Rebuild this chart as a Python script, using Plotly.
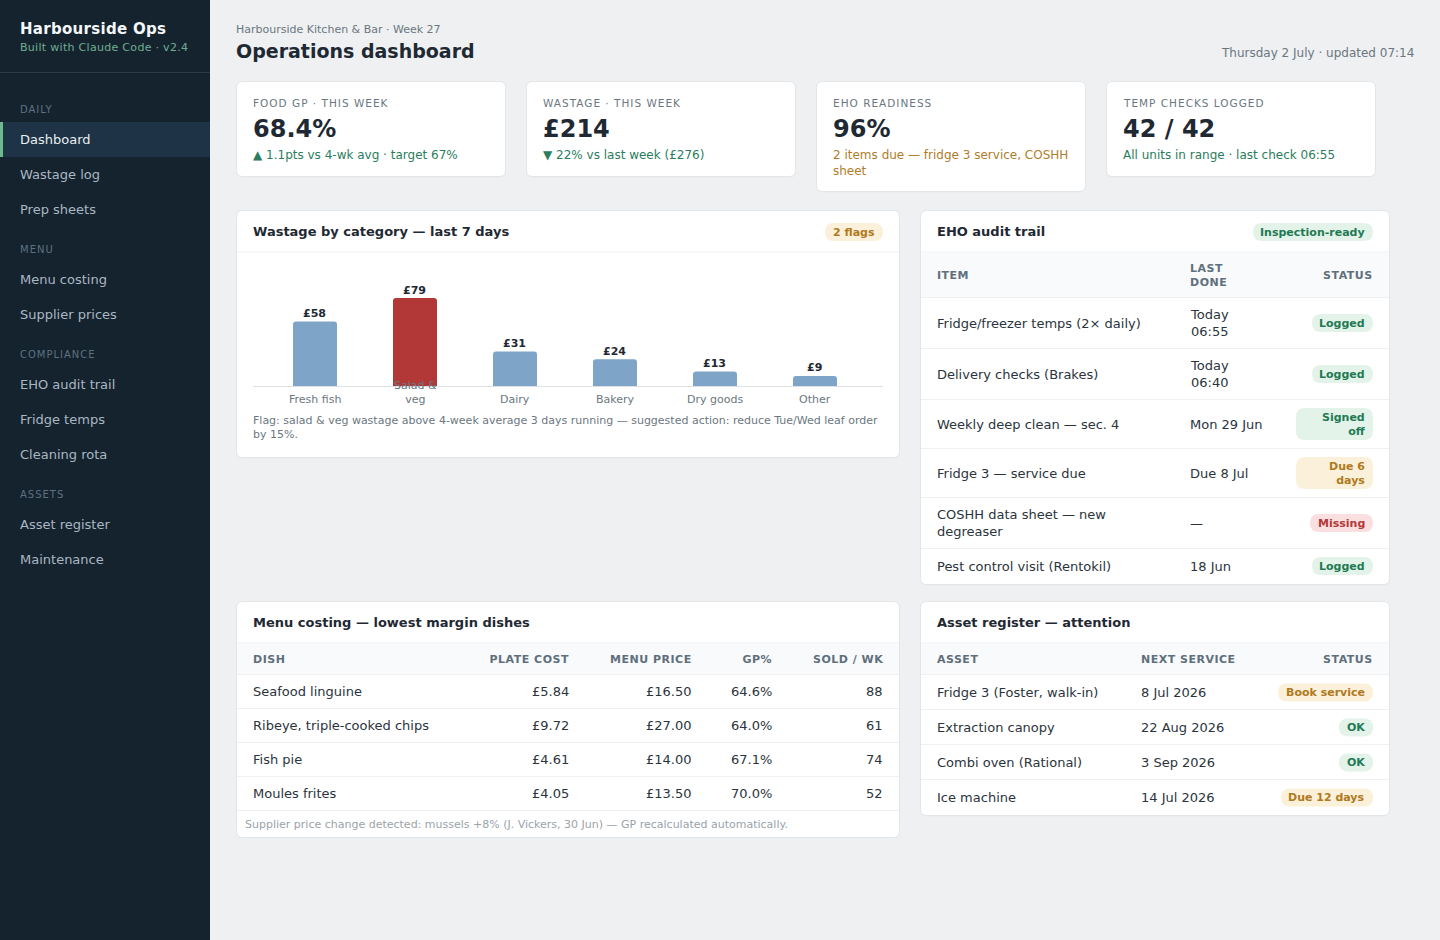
import json
import plotly.graph_objects as go

FONT = "DejaVu Sans"
W, H = 1440, 940

# wastage chart
categories = ["Fresh fish", "Salad & veg", "Dairy", "Bakery", "Dry goods", "Other"]
tick_labels = ["Fresh fish", "Salad &<br>veg", "Dairy", "Bakery", "Dry goods", "Other"]
wastage = [58, 79, 31, 24, 13, 9]
flagged = ["Salad & veg"]

# sidebar
nav_sections = ["DAILY", "MENU", "COMPLIANCE", "ASSETS"]
nav_items = [
    ["Dashboard", "Wastage log", "Prep sheets"],
    ["Menu costing", "Supplier prices"],
    ["EHO audit trail", "Fridge temps", "Cleaning rota"],
    ["Asset register", "Maintenance"],
]

# kpi cards
kpi_labels = ["FOOD GP · THIS WEEK", "WASTAGE · THIS WEEK", "EHO READINESS", "TEMP CHECKS LOGGED"]
kpi_values = ["68.4%", "£214", "96%", "42 / 42"]
kpi_notes = [
    "▲ 1.1pts vs 4-wk avg · target 67%",
    "▼ 22% vs last week (£276)",
    "2 items due — fridge 3 service, COSHH<br>sheet",
    "All units in range · last check 06:55",
]
kpi_tones = ["good", "good", "warn", "good"]

# audit table
audit_items = [
    "Fridge/freezer temps (2× daily)",
    "Delivery checks (Brakes)",
    "Weekly deep clean — sec. 4",
    "Fridge 3 — service due",
    "COSHH data sheet — new<br>degreaser",
    "Pest control visit (Rentokil)",
]
audit_done = ["Today<br>06:55", "Today<br>06:40", "Mon 29 Jun", "Due 8 Jul", "—", "18 Jun"]
audit_status = ["Logged", "Logged", "Signed<br>off", "Due 6<br>days", "Missing", "Logged"]
audit_tones = ["good", "good", "good", "warn", "bad", "good"]

# menu table
dishes = ["Seafood linguine", "Ribeye, triple-cooked chips", "Fish pie", "Moules frites"]
plate_cost = ["£5.84", "£9.72", "£4.61", "£4.05"]
menu_price = ["£16.50", "£27.00", "£14.00", "£13.50"]
gp_pct = ["64.6%", "64.0%", "67.1%", "70.0%"]
sold_wk = ["88", "61", "74", "52"]

# asset table
assets = ["Fridge 3 (Foster, walk-in)", "Extraction canopy", "Combi oven (Rational)", "Ice machine"]
next_service = ["8 Jul 2026", "22 Aug 2026", "3 Sep 2026", "14 Jul 2026"]
asset_status = ["Book service", "OK", "OK", "Due 12 days"]
asset_tones = ["warn", "good", "good", "warn"]

INK = "#1f2933"
BODY = "#2b343c"
MUTED = "#6b7780"
HEAD = "#5f6f7c"
LINE = "#e3e6e9"
SOFT = "#eef0f2"
TONES = {
    "good": ("#1f7a54", "#e3f3ea"),
    "warn": ("#b07a20", "#fbf0da"),
    "bad": ("#b23838", "#fadfe0"),
}
KPI_TONES = {"good": "#2a7d5c", "warn": "#b07d2a"}
PILL_W = {
    "Logged": 61, "Inspection-ready": 120, "2 flags": 58, "Signed<br>off": 77, "Due 6<br>days": 77,
    "Missing": 63, "Book service": 95, "OK": 34, "Due 12 days": 92,
}

shapes = []
notes = []
spacing = {}


def px(x):
    return x / W


def py(y):
    return 1 - y / H


def rect(x0, y0, x1, y1, fill, line=None):
    shapes.append(dict(type="rect", xref="paper", yref="paper", layer="below",
                       x0=px(x0), x1=px(x1), y0=py(y0), y1=py(y1), fillcolor=fill,
                       line=dict(color=line or fill, width=1 if line else 0)))


def rounded(x0, y0, x1, y1, r, fill, line=None):
    a, b, c, d = px(x0), px(x1), py(y0), py(y1)
    rx, ry = r / W, r / H
    path = (f"M {a + rx} {c} L {b - rx} {c} Q {b} {c} {b} {c - ry} L {b} {d + ry} Q {b} {d} {b - rx} {d} "
            f"L {a + rx} {d} Q {a} {d} {a} {d + ry} L {a} {c - ry} Q {a} {c} {a + rx} {c} Z")
    shapes.append(dict(type="path", xref="paper", yref="paper", layer="below", path=path, fillcolor=fill,
                       line=dict(color=line or fill, width=1 if line else 0)))


def hline(x0, x1, y, color=SOFT):
    shapes.append(dict(type="line", xref="paper", yref="paper", layer="below",
                       x0=px(x0), x1=px(x1), y0=py(y), y1=py(y), line=dict(color=color, width=1)))


def text(x, y, s, size=13, color=BODY, bold=False, anchor="left", track=0):
    notes.append(dict(xref="paper", yref="paper", x=px(x), y=py(y), text=s, showarrow=False,
                      xanchor=anchor, yanchor="middle", align=anchor, borderpad=0, borderwidth=0,
                      font=dict(family=FONT, size=size, color=color, weight=700 if bold else 400)))
    if track:
        spacing[s] = [track, anchor]


def pill(right, y, label, tone, h=18):
    fg, bg = TONES[tone]
    rounded(right - PILL_W[label], y - h / 2, right, y + h / 2, 9, bg)
    text(right - 8, y, label, 11, fg, True, "right")


def card(x0, y0, x1, y1):
    # faint drop shadow under the border
    rounded(x0 + 0.5, y0 + 1.5, x1 - 0.5, y1 + 0.5, 6, "#e8eaed")
    rounded(x0 + 0.5, y0 + 0.5, x1 - 0.5, y1 - 0.5, 6, "#ffffff", LINE)


def panel(x0, y0, x1, y1, title):
    card(x0, y0, x1, y1)
    text(x0 + 17, y0 + 21, title, 13, INK, True)
    hline(x0 + 1, x1 - 1, y0 + 42)


def table_head(x0, x1, y0, y1):
    rect(x0 + 1, y0, x1 - 1, y1, "#f8fafb")
    hline(x0 + 1, x1 - 1, y1)


# sidebar
rect(0, 0, 210, H, "#15232f")
hline(0, 210, 72.5, "#2a3a47")
text(20, 29.5, "Harbourside Ops", 15, "#f4f7f9", True, track=0.3)
text(20, 47, "Built with Claude Code · v2.4", 11, "#6fae92", track=0.3)
nav_y = 109
for section, items in zip(nav_sections, nav_items):
    text(20, nav_y + 0.5, section, 10, "#5d7280", track=1)
    nav_y += 30.5
    for item in items:
        if item == "Dashboard":
            rect(0, nav_y - 17.5, 210, nav_y + 17.5, "#1e3346")
            rect(0, nav_y - 17.5, 3, nav_y + 17.5, "#6dbb8c")
        text(20, nav_y, item, 13, "#e8eef2" if item == "Dashboard" else "#a9b7c2")
        nav_y += 35
    nav_y += 4.5

# page header
text(236, 29.5, "Harbourside Kitchen & Bar · Week 27", 11, MUTED)
text(236, 51, "Operations dashboard", 19, INK, True)
text(1414, 52.7, "Thursday 2 July · updated 07:14", 12, MUTED, anchor="right")

# kpi cards
for i, (label, value, note, tone) in enumerate(zip(kpi_labels, kpi_values, kpi_notes, kpi_tones)):
    x0 = 236 + i * 290
    card(x0, 81, x0 + 270, 192 if "<br>" in note else 177)
    text(x0 + 17, 103, label, 10.5, MUTED, track=1)
    text(x0 + 17, 128.5, value, 24, INK, True)
    text(x0 + 17, 155 if "<br>" not in note else 162.6, note, 12, KPI_TONES[tone])

# wastage panel
panel(236, 210, 900, 458, "Wastage by category — last 7 days")
pill(883, 232, "2 flags", "warn")
for i, label in enumerate(tick_labels):
    notes.append(dict(xref="x", yref="paper", x=i, y=py(405.5), text=label, showarrow=False,
                      xanchor="center", yanchor="bottom", borderpad=0, borderwidth=0,
                      font=dict(family=FONT, size=11, color=MUTED)))
for i, v in enumerate(wastage):
    notes.append(dict(xref="x", yref="y", x=i, y=v, text=f"£{v}", showarrow=False, xanchor="center",
                      yanchor="bottom", xshift=-0.5, yshift=1.5, borderpad=0, borderwidth=0,
                      font=dict(family=FONT, size=11, color=INK, weight=700)))
text(253, 427, "Flag: salad & veg wastage above 4-week average 3 days running — suggested action: reduce Tue/Wed leaf order<br>by 15%.", 11, MUTED)

# audit panel
panel(920, 210, 1390, 585, "EHO audit trail")
pill(1373, 232, "Inspection-ready", "good")
table_head(920, 1390, 253, 297.5)
text(937, 275, "ITEM", 11, HEAD, True, track=0.5)
text(1190, 268, "LAST", 11, HEAD, True, track=0.5)
text(1190, 282, "DONE", 11, HEAD, True, track=0.5)
text(1373, 275, "STATUS", 11, HEAD, True, "right", 0.5)
audit_lines = [348.5, 399.5, 448.5, 497.5, 548.5]
audit_mid = [323, 374, 424, 473, 523, 566]
for y in audit_lines:
    hline(921, 1389, y)
for y, item, done, status, tone in zip(audit_mid, audit_items, audit_done, audit_status, audit_tones):
    text(937, y, item, 13, BODY)
    text(1190, y, done, 13, BODY)
    pill(1373, y, status, tone, 32 if "<br>" in status else 18)

# menu panel
panel(236, 601, 900, 838, "Menu costing — lowest margin dishes")
table_head(236, 900, 644, 674.5)
menu_cols = [("PLATE COST", 569, plate_cost), ("MENU PRICE", 692, menu_price), ("GP%", 772, gp_pct), ("SOLD / WK", 883, sold_wk)]
text(253, 659, "DISH", 11, HEAD, True, track=0.5)
for head, x, values in menu_cols:
    text(x, 659, head, 11, HEAD, True, "right", 0.5)
    for j, v in enumerate(values):
        text(x, 691.5 + 34 * j, v, 13, BODY, anchor="right")
for j, dish in enumerate(dishes):
    text(253, 691.5 + 34 * j, dish, 13, BODY)
    hline(237, 899, 708.5 + 34 * j)
text(245, 824, "Supplier price change detected: mussels +8% (J. Vickers, 30 Jun) — GP recalculated automatically.", 11, "#9aa3aa")

# asset panel
panel(920, 601, 1390, 816, "Asset register — attention")
table_head(920, 1390, 644, 674.5)
text(937, 659, "ASSET", 11, HEAD, True, track=0.5)
text(1140.5, 659, "NEXT SERVICE", 11, HEAD, True, track=0.5)
text(1373, 659, "STATUS", 11, HEAD, True, "right", 0.5)
for j, (asset, when, status, tone) in enumerate(zip(assets, next_service, asset_status, asset_tones)):
    y = 692.5 + 35 * j
    text(937, y, asset, 13, BODY)
    text(1140.5, y, when, 13, BODY)
    pill(1373, y, status, tone)
    if j < 3:
        hline(921, 1389, 709.5 + 35 * j)

fig = go.Figure()
fig.add_trace(go.Bar(
    x=list(range(len(categories))), y=wastage, width=0.44, hoverinfo="skip",
    marker=dict(color=["#b23838" if c in flagged else "#7ea5c8" for c in categories], cornerradius=3, line_width=0),
))
fig.update_layout(
    width=W, height=H, margin=dict(l=0, r=0, t=0, b=0), showlegend=False,
    paper_bgcolor="#eef0f2", plot_bgcolor="rgba(0,0,0,0)", font=dict(family=FONT),
    shapes=shapes, annotations=notes,
    xaxis=dict(domain=[px(253), px(883)], range=[-0.62, 5.68], showgrid=False, zeroline=False,
               showticklabels=False, ticks="", showline=True, linecolor="#dde1e5", linewidth=1, fixedrange=True),
    yaxis=dict(domain=[py(386), py(298)], range=[0, 79], visible=False, fixedrange=True),
)

# plotly has no letter-spacing option, so the tracked labels get it once they are drawn
post = """
document.body.style.margin = '0';
document.body.style.overflow = 'hidden';
var tracked = %s;
function track() {
  var items = document.querySelectorAll('.annotation-text');
  if (!items.length) { setTimeout(track, 20); return; }
  items.forEach(function (el) {
    var html = el.textContent;
    var key = Object.keys(tracked).find(function (k) { return k.replace('<br>', '') === html; });
    if (!key) return;
    var a = el.getBBox();
    el.style.letterSpacing = tracked[key][0] + 'px';
    var b = el.getBBox();
    var dx = tracked[key][1] === 'right' ? (a.x + a.width) - (b.x + b.width) : a.x - b.x;
    el.setAttribute('x', parseFloat(el.getAttribute('x')) + dx);
    el.querySelectorAll('tspan.line').forEach(function (t) {
      t.setAttribute('x', parseFloat(t.getAttribute('x')) + dx);
    });
  });
}
track();
""" % json.dumps(spacing)

fig.write_html("out.html", config={"displayModeBar": False}, post_script=post)
